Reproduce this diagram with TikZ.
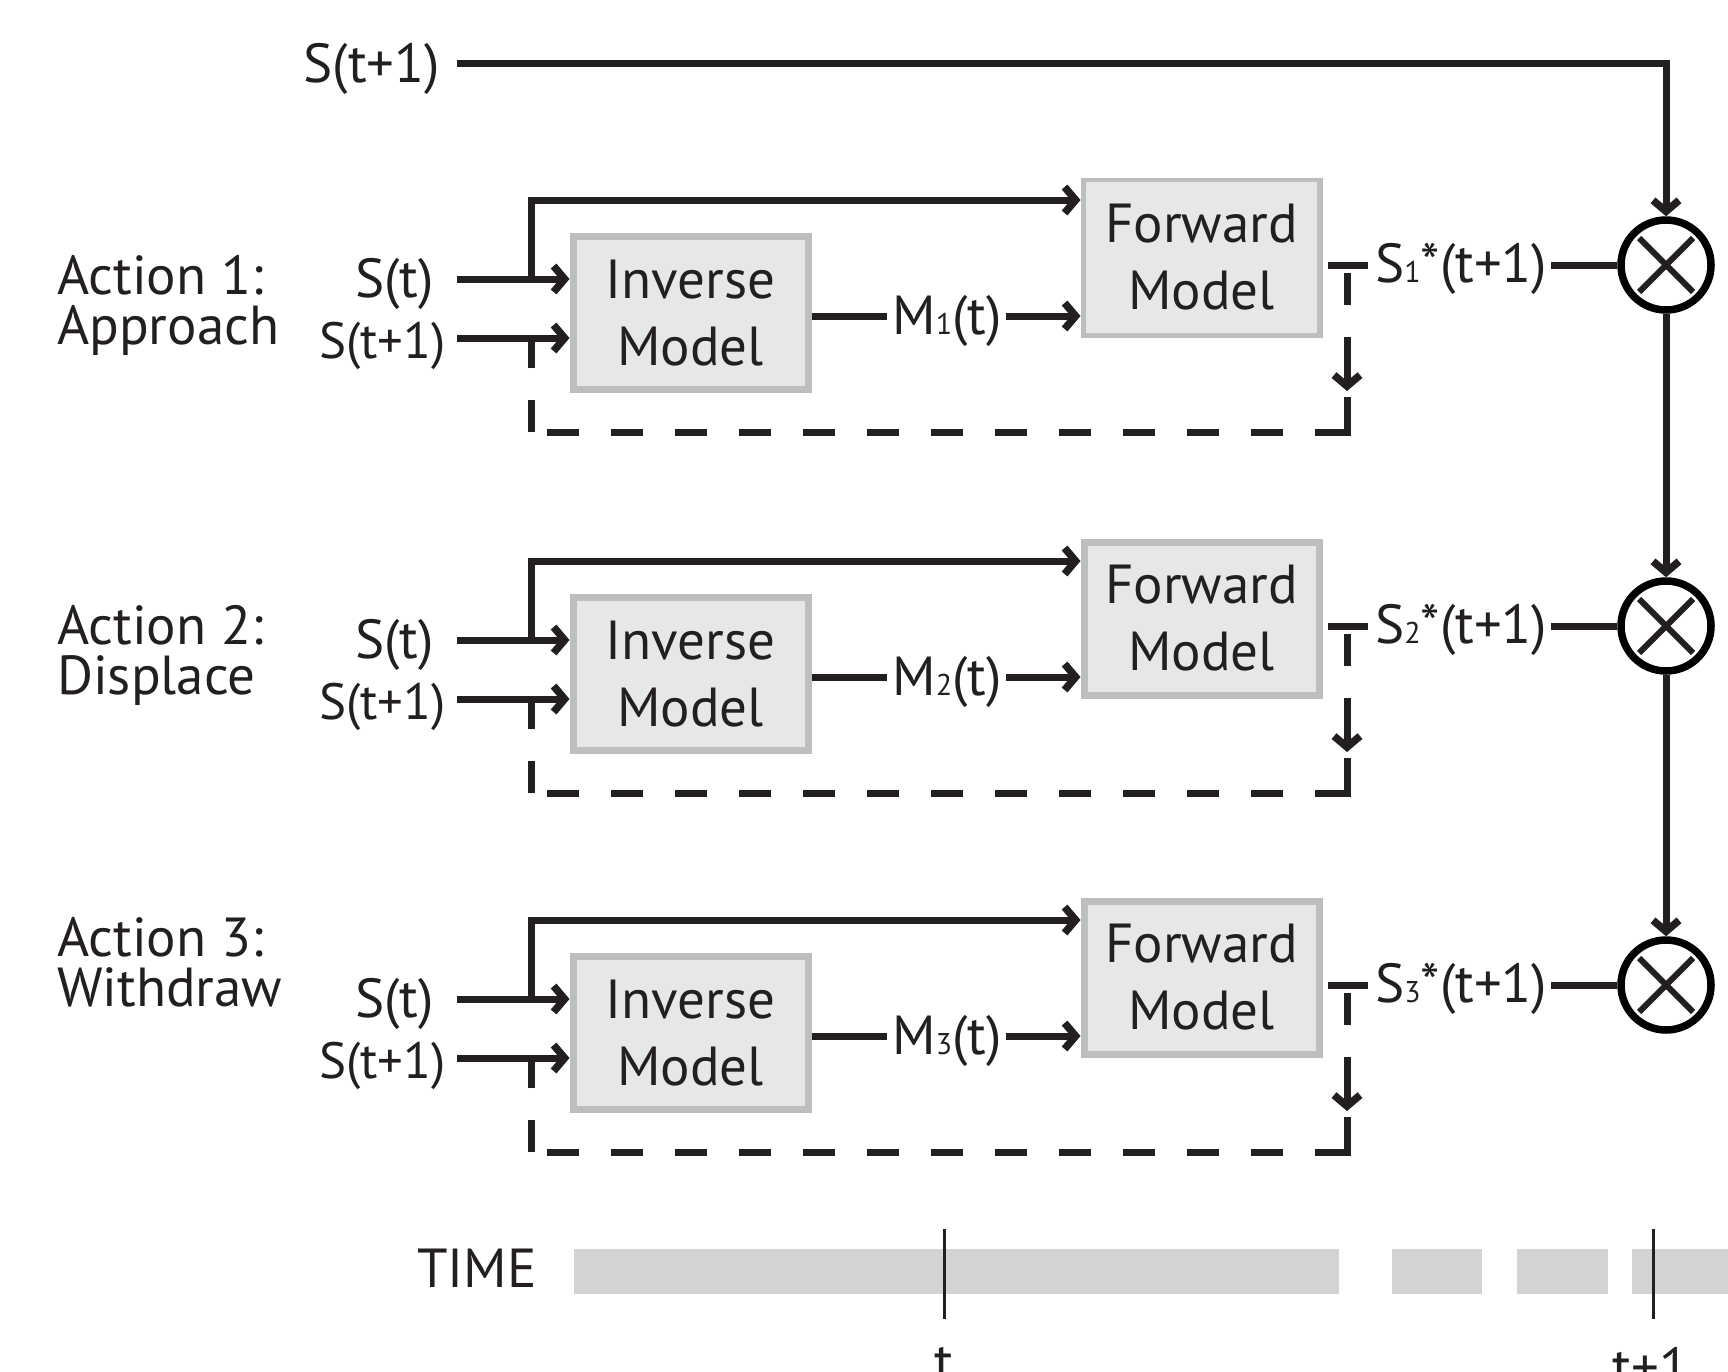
\documentclass[tikz,border=0pt]{standalone}
\usepackage{fontspec}
\setmainfont{PT Sans}
\usetikzlibrary{arrows.meta,calc}
\definecolor{ink}{HTML}{231F20}
\definecolor{boxfill}{HTML}{E6E7E8}
\definecolor{boxline}{HTML}{BCBEC0}
\definecolor{timebar}{HTML}{D1D3D4}
\newcommand\subn[1]{{\fontsize{30}{30}\selectfont #1}}
\begin{document}
\begin{tikzpicture}[x=1pt,y=-1pt,
  lab/.style={inner sep=0pt, font=\fontsize{55}{50}\selectfont, text=ink},
  smalllab/.style={inner sep=0pt, font=\fontsize{51}{50}\selectfont, text=ink},
  modelbox/.style={draw=boxline, fill=boxfill, line width=7pt, inner sep=0pt,
    align=center, font=\fontsize{55}{67}\selectfont, text=ink,
    minimum width=235pt, minimum height=153pt},
  conn/.style={draw=ink, line width=7pt},
  arr/.style={conn, -{Straight Barb[length=11pt,width=26pt,line width=7.5pt]}},
  fb/.style={conn, dash pattern=on 32pt off 32pt},
  mult/.style={circle, draw=black, line width=7.5pt, minimum size=90pt, inner sep=0pt},
  tick/.style={draw=ink, line width=3pt},
]
\useasboundingbox (0,0) rectangle (1728,1371);
\clip (0,0) rectangle (1728,1371);

% top input
\node[lab, anchor=base east] (stop) at (440,82) {S(t+1)};
\coordinate (topstart) at (457,63);

\foreach \r/\dy/\ay/\act in {1/0/344/Approach,2/361/694/Displace,3/720/1006/Withdraw}{
  \node[lab, anchor=base west, align=left] (act\r) at (57,\ay) {Action \r:\\\act};
  \node[lab, anchor=base east] (st\r) at (434,297+\dy) {S(t)};
  \node[smalllab, anchor=base east] (stp\r) at (446,358+\dy) {S(t+1)};
  \node[modelbox] (inv\r) at (690.5,313+\dy) {Inverse\\Model};
  \node[modelbox] (fwd\r) at (1201.5,257.5+\dy) {Forward\\Model};
  \node[lab, anchor=base] (m\r) at (947,334+\dy) {M\subn{\r}(t)};
  \node[lab, anchor=base west] (so\r) at (1375,282+\dy) {S\subn{\r}*(t+1)};
  \node[mult] (c\r) at (1666,265+\dy) {};
  \coordinate (sin\r) at (457,279+\dy);
  \coordinate (br\r) at (531,279+\dy);
  \coordinate (up\r) at (531,200+\dy);
  \coordinate (pin\r) at (457,338+\dy);
  \coordinate (mid\r) at (0,316+\dy);
  \coordinate (out\r) at (0,265+\dy);
  \coordinate (teeL\r) at (1328,265+\dy);
  \coordinate (teeR\r) at (1368,265+\dy);
  \coordinate (fa\r) at (1347,273+\dy);
  \coordinate (fb\r) at (1347,305+\dy);
  \coordinate (fc\r) at (1347,337+\dy);
  \coordinate (fd\r) at (1347,391+\dy);
  \coordinate (fe\r) at (1347,400+\dy);
  \coordinate (ff\r) at (1347,432+\dy);
  \coordinate (fg\r) at (531,432+\dy);
  \coordinate (fh\r) at (531,341+\dy);
  % inputs
  \draw[arr] (sin\r) -- (sin\r -| inv\r.west);
  \draw[arr] (pin\r) -- (pin\r -| inv\r.west);
  \draw[arr] (br\r) -- (up\r) -- (up\r -| fwd\r.west);
  % motor command
  \draw[conn] (inv\r.east |- mid\r) -- ([xshift=-5pt]m\r.west |- mid\r);
  \draw[arr] ([xshift=4pt]m\r.east |- mid\r) -- (fwd\r.west |- mid\r);
  % output
  \draw[conn] (teeL\r) -- (teeR\r);
  \draw[conn] ([xshift=4pt]so\r.east |- out\r) -- (c\r.west);
  % cross
  \draw[conn, line width=6pt] ($(c\r.center)+(-27,-27)$) -- ($(c\r.center)+(27,27)$);
  \draw[conn, line width=6pt] ($(c\r.center)+(-27,27)$) -- ($(c\r.center)+(27,-27)$);
  % feedback
  \draw[conn] (fa\r) -- (fb\r);
  \draw[arr] (fc\r) -- (fd\r);
  \draw[conn, line cap=rect] (fe\r) -- (ff\r);
  \draw[fb] (ff\r) -- (fg\r);
  \draw[fb] (fg\r) -- (fh\r);
}
\path (fwd1) node[draw=boxline, fill=boxfill, line width=3pt, inner sep=0pt,
    align=center, font=\fontsize{55}{67}\selectfont, text=ink,
    minimum width=234pt, minimum height=154pt] {Forward\\Model};

\draw[arr] (topstart) -| (c1.north);
\draw[arr] (c1.south) -- (c2.north);
\draw[arr] (c2.south) -- (c3.north);

% time bar
\node[lab, anchor=base] (time) at (477,1287) {TIME};
\fill[timebar] (574,1249) rectangle (1339,1294);
\fill[timebar] (1392,1249) rectangle (1482,1294);
\fill[timebar] (1517,1249) rectangle (1608,1294);
\fill[timebar] (1632,1249) rectangle (1728,1294);
\coordinate (tA) at (944,1229);
\coordinate (tB) at (944,1319);
\coordinate (uA) at (1653,1229);
\coordinate (uB) at (1653,1319);
\draw[tick] (tA) -- (tB);
\draw[tick] (uA) -- (uB);
\node[lab, anchor=north] (tl) at (944,1347) {t};
\node[lab, anchor=north] (tpl) at (1651,1347) {t+1};
\end{tikzpicture}
\end{document}
